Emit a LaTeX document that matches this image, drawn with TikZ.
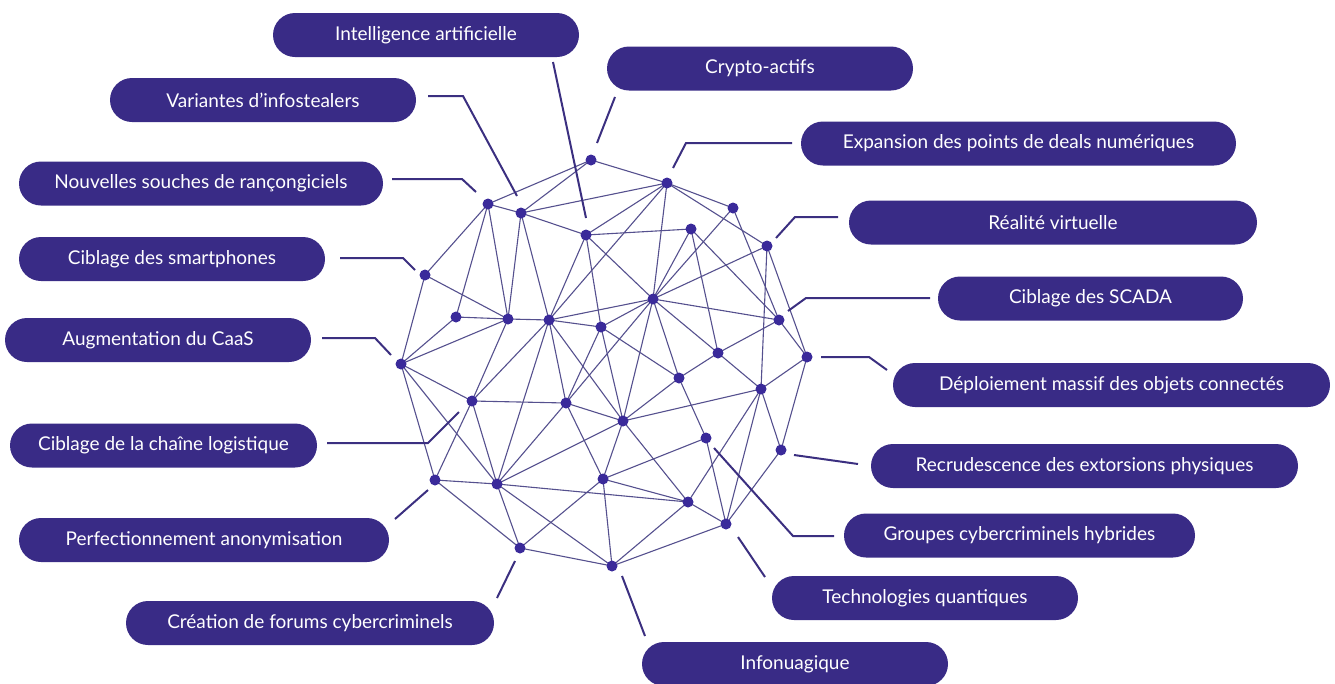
\documentclass[tikz,border=0pt]{standalone}
\usepackage{fontspec}
\setmainfont{Lato}
\definecolor{pillc}{HTML}{392B86}
\definecolor{dotc}{HTML}{3A2A9A}
\definecolor{edgec}{HTML}{55508E}
\definecolor{leadc}{HTML}{3B2F80}
\tikzset{
  pill/.style={rounded corners=22pt, minimum height=44pt, fill=pillc, text=white, inner sep=0pt,
    font=\fontsize{19}{22}\selectfont},
  dotnode/.style={circle, fill=dotc, inner sep=0pt, minimum size=11pt},
  edge/.style={draw=edgec, line width=1.1pt},
  leader/.style={draw=leadc, line width=2pt}
}
\begin{document}
\begin{tikzpicture}[x=1pt,y=-1pt]
\useasboundingbox (0,0) rectangle (1335,683);
% dots
\foreach \n/\x/\y in {1/591/160,2/667/183,3/733/208,4/488/204,5/521/213,6/586/235,7/691/229,8/767/246,
 9/425/275,10/456/317,11/508/319,12/549/320,13/601/327,14/653/299,15/779/320,16/718/353,17/807/357,
 18/401/364,19/472/401,20/566/403,21/679/378,22/761/389,23/623/421,24/706/438,25/781/450,
 26/435/480,27/497/484,28/603/479,29/688/502,30/726/524,31/520/548,32/612/566}
 { \coordinate (n\n) at (\x,\y); }
% edges
\foreach \a/\b in {1/2,1/4,1/5,2/3,2/5,2/6,2/8,2/12,2/14,3/14,3/15,4/5,4/9,4/10,4/11,
 5/6,5/11,5/12,6/7,6/12,6/13,6/14,7/14,7/16,7/15,8/14,8/22,8/17,9/11,9/18,10/11,10/18,
 11/12,11/18,11/19,12/13,12/14,12/19,12/20,12/27,12/23,13/14,13/20,13/21,13/23,
 14/15,14/16,14/21,14/23,14/20,15/16,15/17,16/21,16/22,17/22,17/25,18/19,18/26,18/27,
 19/20,19/26,19/27,20/23,20/28,20/27,21/23,21/24,22/23,22/25,22/29,22/30,23/27,23/28,23/29,
 24/28,24/30,25/30,26/27,26/31,27/29,27/31,27/32,28/29,28/31,28/32,29/30,29/32,30/32,31/32}
 { \draw[edge] (n\a) -- (n\b); }
\foreach \n in {1,...,32} { \node[dotnode] (d\n) at (n\n) {}; }
% labels
\node[pill, minimum width=306pt] (l1) at (426,35) {Intelligence artificielle};
\node[pill, minimum width=306pt] (l2) at (760,68.5) {Crypto-actifs};
\node[pill, minimum width=306pt] (l3) at (263,100) {Variantes d’infostealers};
\node[pill, minimum width=364pt] (l4) at (201,183.5) {Nouvelles souches de rançongiciels};
\node[pill, minimum width=306pt] (l5) at (172,259) {Ciblage des smartphones};
\node[pill, minimum width=306pt] (l6) at (158,340) {Augmentation du CaaS};
\node[pill, minimum width=307pt] (l7) at (163.5,445.5) {Ciblage de la chaîne logistique};
\node[pill, minimum width=370pt] (l8) at (204,540) {Perfectionnement anonymisation};
\node[pill, minimum width=368pt] (l9) at (310,623) {Création de forums cybercriminels};
\node[pill, minimum width=306pt] (l10) at (795,664) {Infonuagique};
\node[pill, minimum width=306pt] (l11) at (925,598) {Technologies quantiques};
\node[pill, minimum width=351pt] (l12) at (1019.5,535.5) {Groupes cybercriminels hybrides};
\node[pill, minimum width=427pt] (l13) at (1084.5,466) {Recrudescence des extorsions physiques};
\node[pill, minimum width=437pt] (l14) at (1111.5,385) {Déploiement massif des objets connectés};
\node[pill, minimum width=305pt] (l15) at (1090.5,298.5) {Ciblage des SCADA};
\node[pill, minimum width=408pt] (l16) at (1053,222.5) {Réalité virtuelle};
\node[pill, minimum width=435pt] (l17) at (1018.5,143.5) {Expansion des points de deals numériques};
% leader end points
\coordinate (a1) at (553,62);  \coordinate (e1) at (586,218);
\coordinate (a2) at (615,97);  \coordinate (e2) at (597,143);
\coordinate (a3) at (428,96);  \coordinate (k3) at (463,96);  \coordinate (e3) at (517,196);
\coordinate (a4) at (392,179); \coordinate (k4) at (462,179); \coordinate (e4) at (476,192);
\coordinate (a5) at (340,258); \coordinate (k5) at (403,258); \coordinate (e5) at (415,270);
\coordinate (a6) at (322,338); \coordinate (k6) at (375,338); \coordinate (e6) at (391,355);
\coordinate (a7) at (327,443); \coordinate (k7) at (428,443); \coordinate (e7) at (459,412);
\coordinate (a8) at (395,519); \coordinate (e8) at (428,490);
\coordinate (a9) at (497,598); \coordinate (e9) at (515,561);
\coordinate (a10) at (645,636); \coordinate (e10) at (622,576);
\coordinate (a11) at (765,577); \coordinate (e11) at (738,537);
\coordinate (a12) at (834,536); \coordinate (k12) at (793,536); \coordinate (e12) at (714,448);
\coordinate (a13) at (858,464); \coordinate (e13) at (794,455);
\coordinate (a14) at (887,370); \coordinate (k14) at (869,357); \coordinate (e14) at (821,357);
\coordinate (a15) at (930,298); \coordinate (k15) at (806,298); \coordinate (e15) at (788,311);
\coordinate (a16) at (838,217); \coordinate (k16) at (795,217); \coordinate (e16) at (776,238);
\coordinate (a17) at (792,143); \coordinate (k17) at (686,143); \coordinate (e17) at (673,168);
\draw[leader] (a1) -- (e1);
\draw[leader] (a2) -- (e2);
\draw[leader] (a3) -- (k3) -- (e3);
\draw[leader] (a4) -- (k4) -- (e4);
\draw[leader] (a5) -- (k5) -- (e5);
\draw[leader] (a6) -- (k6) -- (e6);
\draw[leader] (a7) -- (k7) -- (e7);
\draw[leader] (a8) -- (e8);
\draw[leader] (a9) -- (e9);
\draw[leader] (a10) -- (e10);
\draw[leader] (a11) -- (e11);
\draw[leader] (a12) -- (k12) -- (e12);
\draw[leader] (a13) -- (e13);
\draw[leader] (a14) -- (k14) -- (e14);
\draw[leader] (a15) -- (k15) -- (e15);
\draw[leader] (a16) -- (k16) -- (e16);
\draw[leader] (a17) -- (k17) -- (e17);
\end{tikzpicture}
\end{document}
